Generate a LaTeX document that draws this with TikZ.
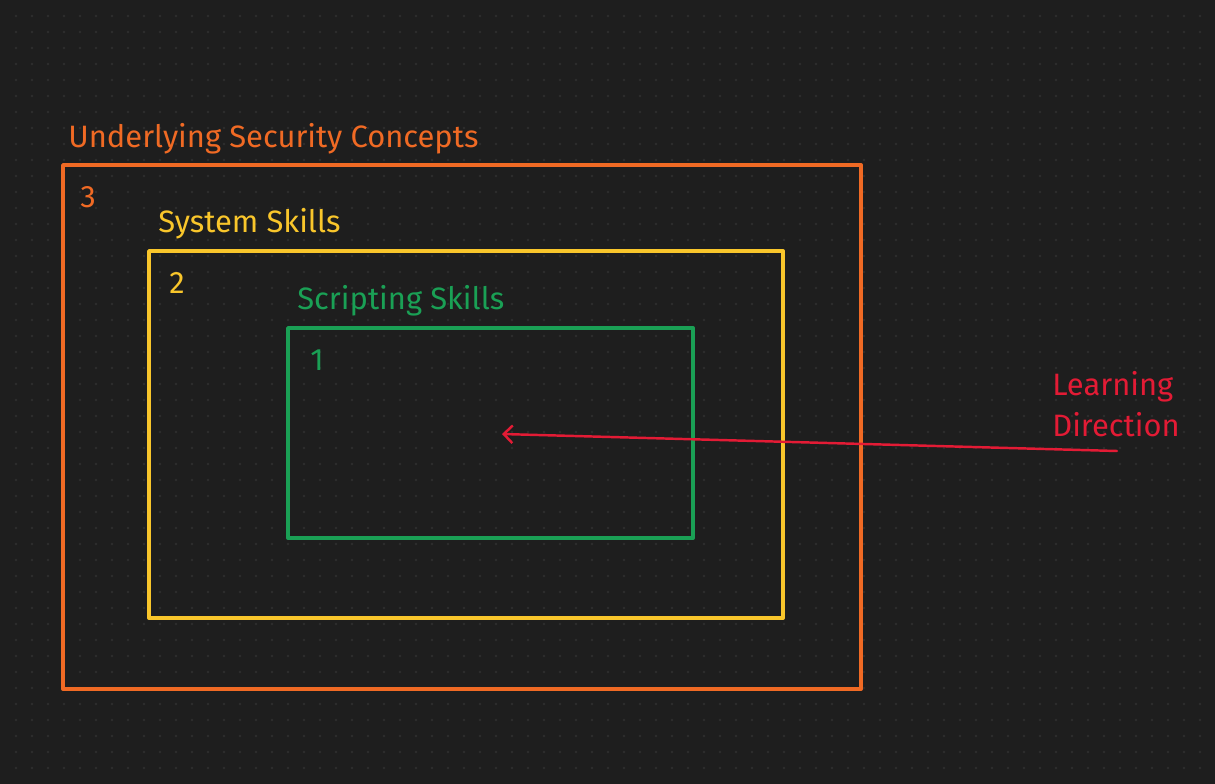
\documentclass[tikz,border=0pt]{standalone}
\usepackage{fontspec}
\setmainfont{Fira Sans}
\usetikzlibrary{arrows.meta, positioning}

\definecolor{bgdark}{HTML}{1E1E1E}
\definecolor{griddot}{HTML}{2E2E2E}
\definecolor{conceptorange}{HTML}{F06A24}
\definecolor{systemyellow}{HTML}{F9C62B}
\definecolor{scriptgreen}{HTML}{1AA055}
\definecolor{learnred}{HTML}{E31B35}

\tikzset{
  frame/.style={line width=2.2pt, line join=round},
  lbl/.style={anchor=base west, inner sep=0pt, font=\fontsize{17.6}{21}\selectfont},
}

\begin{document}
\begin{tikzpicture}[x=0.02cm, y=-0.02cm, >={Straight Barb[length=5pt,width=10pt]}]
    % background with dot grid
    \fill[bgdark] (0,0) rectangle (1215,784);
    \foreach \i in {16,32,...,1208}
        \foreach \j in {16,32,...,776}
            \fill[griddot] (\i,\j) circle (0.8pt);

    % outer frame
    \draw[frame, conceptorange] (63,165) rectangle (861,689);
    \node[lbl, conceptorange] (concepts) at (68,148) {Underlying Security Concepts};
    \node[lbl, conceptorange] (three) at (80,208) {3};

    % middle frame
    \draw[frame, systemyellow] (149,251) rectangle (783,618);
    \node[lbl, systemyellow] (system) at (158,233) {System Skills};
    \node[lbl, systemyellow] (two) at (169,294) {2};

    % inner frame
    \draw[frame, scriptgreen] (288,328) rectangle (693,538);
    \node[lbl, scriptgreen] (scripting) at (297,310) {Scripting Skills};
    \node[lbl, scriptgreen] (one) at (310,370) {1};

    % learning direction
    \node[lbl, learnred] (learning) at (1052,395) {Learning};
    \node[lbl, learnred] (direction) at (1052,436) {Direction};
    \coordinate (start) at (1117,451);
    \coordinate (target) at (502,434);
    \draw[->, learnred, line width=1.4pt, line cap=round] (start) -- (target);
\end{tikzpicture}
\end{document}
